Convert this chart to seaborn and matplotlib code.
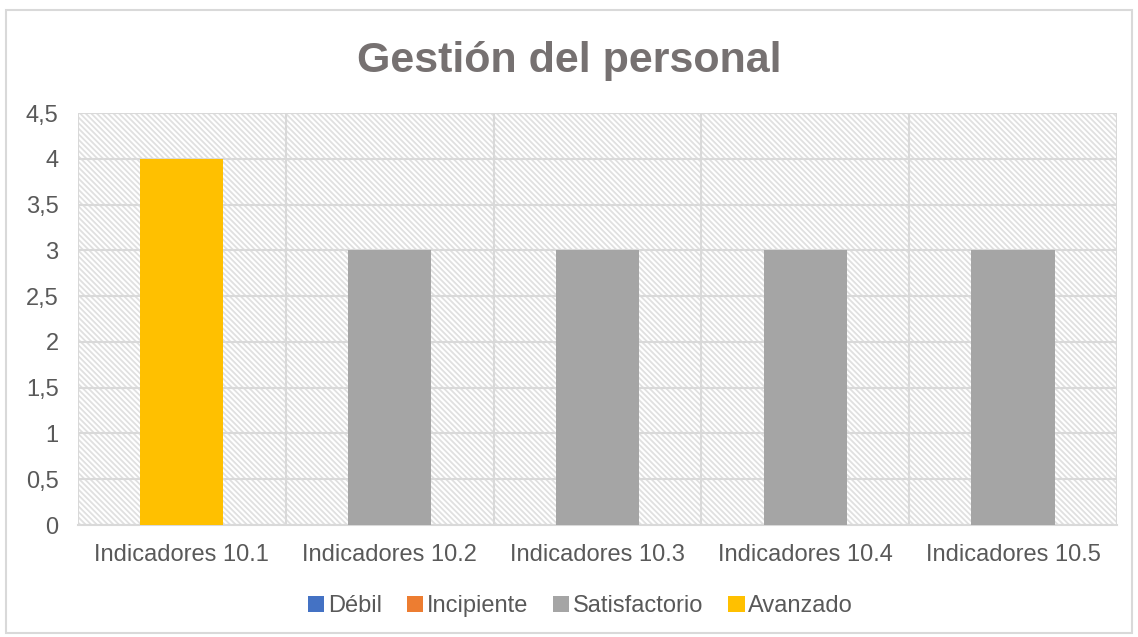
import pandas as pd
import seaborn as sns
from matplotlib import pyplot as plt
from matplotlib.patches import Patch, Rectangle
from matplotlib.ticker import FuncFormatter, MultipleLocator

indicadores = ["Indicadores 10.1", "Indicadores 10.2", "Indicadores 10.3",
               "Indicadores 10.4", "Indicadores 10.5"]
niveles = ["Débil", "Incipiente", "Satisfactorio", "Avanzado"]
debil = [0, 0, 0, 0, 0]
incipiente = [0, 0, 0, 0, 0]
satisfactorio = [0, 3, 3, 3, 3]
avanzado = [4, 0, 0, 0, 0]
colores = ["#4472C4", "#ED7D31", "#A5A5A5", "#FFC000"]

TEXT = "#595959"
GRID = "#d9d9d9"

sns.set_style("white")
plt.rcParams["font.family"] = ["Liberation Sans", "DejaVu Sans"]
plt.rcParams["hatch.linewidth"] = 1.3

wide = pd.DataFrame({"indicador": indicadores, "Débil": debil, "Incipiente": incipiente,
                     "Satisfactorio": satisfactorio, "Avanzado": avanzado})
df = wide.melt(id_vars="indicador", var_name="nivel", value_name="valor")

fig = plt.figure(figsize=(11.38, 6.37), dpi=100)
ax = fig.add_axes([0.0685, 0.1758, 0.913, 0.6468])

# hatched plot area background, like the Excel pattern fill
ax.add_patch(Rectangle((0, 0), 1, 1, transform=ax.transAxes, facecolor="white",
                       edgecolor="#e0e0e0", linewidth=0, hatch="\\" * 6, zorder=0))

sns.barplot(data=df, x="indicador", y="valor", hue="nivel", hue_order=niveles,
            palette=dict(zip(niveles, colores)), dodge=False, width=0.4,
            saturation=1, linewidth=0, legend=False, ax=ax)
for b in ax.patches[1:]:
    b.set_zorder(3)

ax.set_xlim(-0.5, len(indicadores) - 0.5)
ax.set_ylim(0, 4.5)
ax.yaxis.set_major_locator(MultipleLocator(0.5))
ax.yaxis.set_major_formatter(FuncFormatter(lambda v, p: f"{v:g}".replace(".", ",")))
ax.xaxis.set_minor_locator(MultipleLocator(1, offset=0.5))
ax.set_axisbelow(False)
ax.grid(axis="y", which="major", color=GRID, linewidth=1.5, zorder=1)
ax.grid(axis="x", which="minor", color=GRID, linewidth=1.5, zorder=1)
ax.grid(axis="x", which="major", visible=False)

for s in ["top", "right", "left"]:
    ax.spines[s].set_visible(False)
ax.spines["bottom"].set_color(GRID)
ax.spines["bottom"].set_linewidth(1.5)

ax.set_xlabel("")
ax.set_ylabel("")
ax.tick_params(axis="both", which="both", length=0, labelsize=17, labelcolor=TEXT)
ax.tick_params(axis="x", pad=14)
ax.tick_params(axis="y", pad=14)

fig.suptitle("Gestión del personal", x=0.5, y=0.935, fontsize=31, fontweight="bold",
             color="#767171")

handles = [Patch(facecolor=c, edgecolor="none") for c in colores]
fig.legend(handles, niveles, loc="center", bbox_to_anchor=(0.51, 0.048), ncol=4,
           frameon=False, fontsize=17, labelcolor=TEXT, handlelength=0.7,
           handleheight=0.7, handletextpad=0.15, columnspacing=1.05)

# chart outer border
fig.add_artist(Rectangle((0.005, 0.006), 0.99, 0.978, transform=fig.transFigure,
                         fill=False, edgecolor=GRID, linewidth=1.5))

fig.savefig("out.png", dpi=100)
